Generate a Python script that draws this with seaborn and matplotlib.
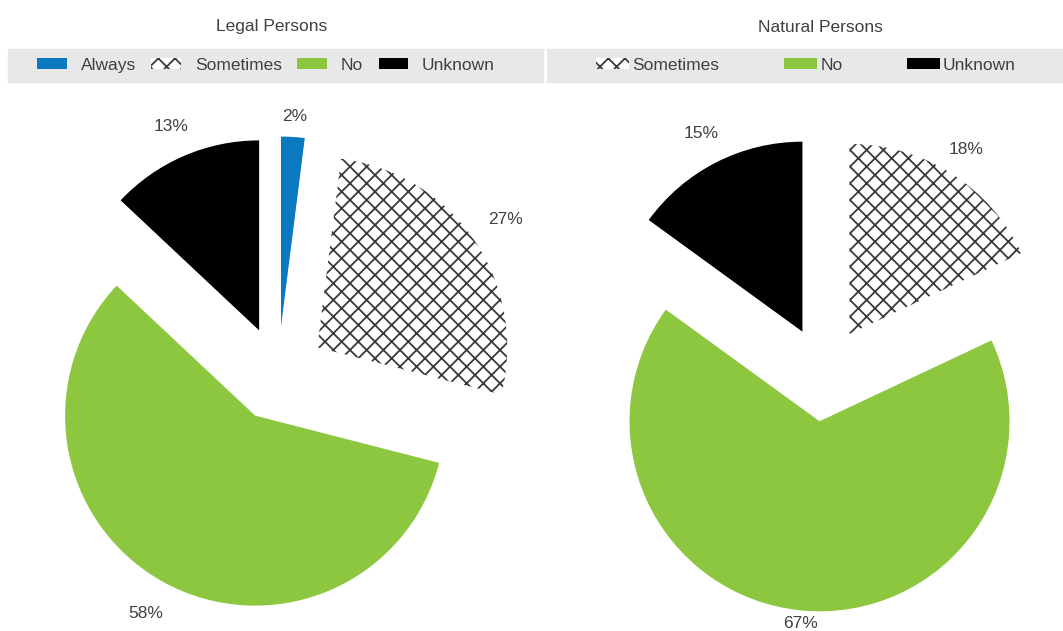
import matplotlib
matplotlib.use("Agg")
import matplotlib.pyplot as plt
import seaborn as sns
import numpy as np
from matplotlib.patches import Rectangle

# data
legal_labels = ["Always", "Sometimes", "No", "Unknown"]
legal_values = [2, 27, 58, 13]
natural_labels = ["Sometimes", "No", "Unknown"]
natural_values = [18, 67, 15]

colors = {"Always": "#0a79c0", "Sometimes": "white", "No": "#8dc63f", "Unknown": "black"}

sns.set_theme(style="white")
plt.rcParams["font.family"] = ["Liberation Sans", "DejaVu Sans"]
plt.rcParams["hatch.linewidth"] = 1.3
text_col = "#404040"
fs = 12.5

W, H = 1063, 631
fig = plt.figure(figsize=(W / 100, H / 100), dpi=100)


def draw_pie(x0, x1, cx, labels, values, label_dist):
    # axes placed in pixel terms so one data unit = pie radius (190 px)
    R, cy, top = 190.0, 374.0, 85.0
    ax = fig.add_axes([x0 / W, 0, (x1 - x0) / W, (H - top) / H])
    wedges, texts = ax.pie(
        values, labels=[f"{v}%" for v in values],
        colors=[colors[l] for l in labels],
        startangle=90, counterclock=False, explode=[0.25] * len(values),
        labeldistance=1.0, radius=1,
        wedgeprops=dict(linewidth=0),
        textprops=dict(color=text_col, fontsize=fs, ha="center", va="center"),
    )
    for w, t, l, d in zip(wedges, texts, labels, label_dist):
        if l == "Sometimes":
            w.set_hatch("xx")
            w.set_edgecolor("#3a3a3a")
            w.set_linewidth(0)
        c = np.array(w.center)
        p = np.array(t.get_position())
        t.set_position(c + d * (p - c))
        t.set_horizontalalignment("center")
    ax.set_aspect("auto")
    ax.set_xlim((x0 - cx) / R, (x1 - cx) / R)
    ax.set_ylim((cy - H) / R, (cy - top) / R)
    ax.axis("off")
    return wedges


# gray legend bands and titles
fig.patches.append(Rectangle((8 / W, 1 - 82 / H), 535 / W, 33 / H,
                             transform=fig.transFigure, color="#e8e8e8", zorder=0))
fig.patches.append(Rectangle((547 / W, 1 - 82 / H), 516 / W, 33 / H,
                             transform=fig.transFigure, color="#e8e8e8", zorder=0))
fig.text(272 / W, 1 - 27 / H, "Legal Persons", ha="center", va="center",
         fontsize=fs, color=text_col)
fig.text(820 / W, 1 - 27 / H, "Natural Persons", ha="center", va="center",
         fontsize=fs, color=text_col)

w1 = draw_pie(0, 545, 278, legal_labels, legal_values, [1.11, 1.2, 1.19, 1.17])
w2 = draw_pie(547, 1063, 824, natural_labels, natural_values, [1.15, 1.07, 1.17])

fig.legend(w1, legal_labels, loc="center", bbox_to_anchor=(266 / W, 1 - 65.5 / H),
           ncol=4, frameon=False, fontsize=fs, handlelength=1.7, handleheight=0.6,
           handletextpad=0.8, columnspacing=0.9, labelcolor=text_col)
fig.legend(w2, natural_labels, loc="center", bbox_to_anchor=(806 / W, 1 - 65.5 / H),
           ncol=3, frameon=False, fontsize=fs, handlelength=1.9, handleheight=0.6,
           handletextpad=0.2, columnspacing=3.7, labelcolor=text_col)

fig.savefig("out.png", dpi=100, facecolor="white")
